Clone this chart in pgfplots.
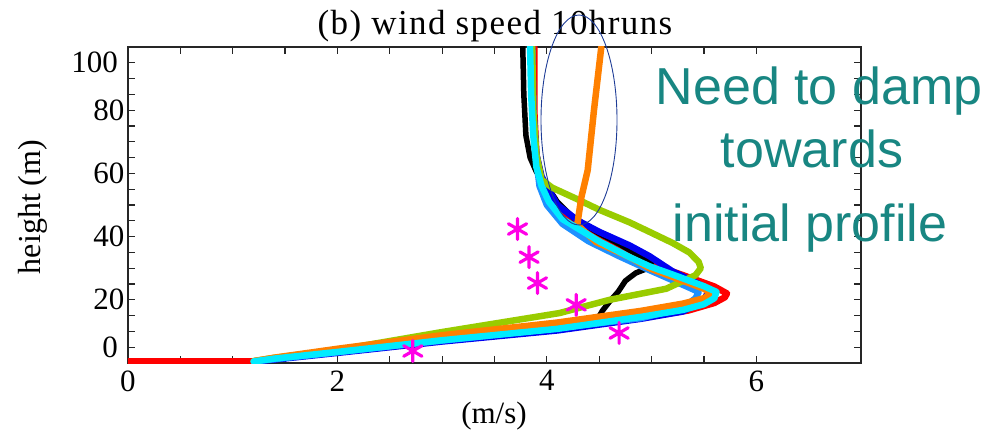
\documentclass[border=0pt]{standalone}
\usepackage{fontspec}
\setmainfont{Liberation Serif}
\newfontfamily\annfont{Liberation Sans}
\newfontfamily\titlefont[LetterSpace=4]{Liberation Serif}
\usepackage{pgfplots}
\pgfplotsset{compat=1.18}
\definecolor{cgreen}{RGB}{153,204,0}
\definecolor{corange}{RGB}{255,128,0}
\definecolor{ccyan}{RGB}{0,235,255}
\definecolor{cdodger}{RGB}{30,144,255}
\definecolor{cblue}{RGB}{0,0,240}
\definecolor{cteal}{RGB}{24,134,130}
\definecolor{cellipse}{RGB}{30,60,150}
\definecolor{cmag}{RGB}{255,0,230}
\begin{document}
\begin{tikzpicture}
\path (-128pt,-79pt) rectangle (879pt,363pt);
\begin{axis}[at={(0pt,0pt)}, anchor=south west, scale only axis,
  width=733pt, height=316pt,
  xmin=0, xmax=7, ymin=0, ymax=100,
  xtick={0,2,4,6}, ytick={0,20,...,100}, yticklabels={,20,40,60,80,},
  minor x tick num=3, minor y tick num=3,
  tick align=inside, major tick length=7pt, minor tick length=7pt,
  tick style={black!85, line width=1.2pt},
  axis line style={line width=1.5pt, black!85},
  ticklabel style={font=\fontsize{31}{36}\selectfont},
  /pgf/number format/assume math mode=true,
  xticklabel style={yshift=-4pt},
  every axis plot/.append style={line join=round, line cap=round}]
% red
\addplot[red, line width=6.5pt] coordinates {
(0,0.5) (1.2,0.5) (1.4,1.4) (2,3.4) (3,7.0) (4.1,10.6) (4.9,14.3) (5.35,16.6) (5.6,19) (5.7,20.8) (5.72,22)
(5.6,24.2) (5.3,27.8) (4.98,31.5) (4.6,37.5) (4.3,43.5) (4.1,48) (4.0,53) (3.95,58) (3.9,66) (3.88,80) (3.88,100)};
% black
\addplot[black, line width=5.5pt] coordinates {
(1.2,0.5) (2,3.6) (3,7.4) (4,11.2) (4.5,14.8) (4.53,16.5) (4.6,19.5) (4.68,22.5) (4.75,26) (4.85,28.5) (4.95,29.8) (5.0,31.5)
(4.9,33.5) (4.7,37.5) (4.5,41) (4.25,46) (4.1,51) (4.0,56) (3.9,60.5) (3.84,65) (3.8,72) (3.78,85) (3.77,100)};
% blue
\addplot[cblue, line width=6.5pt] coordinates {
(1.2,0.4) (2,3.2) (3,6.8) (4.1,10.3) (4.9,14.0) (5.3,16.3) (5.5,20) (5.55,23) (5.45,25) (5.2,29) (4.98,33.8) (4.79,37.2) (4.5,41.5) (4.3,45) (4.1,50) (4.02,54.7) (3.95,59) (3.9,66) (3.87,80) (3.86,100)};
% dodger blue
\addplot[cdodger, line width=6.5pt] coordinates {
(1.2,0.5) (2,3.4) (3,7.1) (4,10.6) (4.9,14.2) (5.3,17.5) (5.42,20.5) (5.45,22.5) (5.35,24) (4.98,29.4) (4.69,33.8) (4.4,38.5) (4.15,44) (4.0,50) (3.93,56) (3.9,64) (3.87,80) (3.86,100)};
% green
\addplot[cgreen, line width=6.5pt] coordinates {
(1.2,0.6) (1.39,1.6) (2,4.1) (3,9.8) (4.12,15.8) (4.6,20) (5.14,23.5) (5.42,27.8) (5.47,30) (5.45,32) (5.36,35) (5.2,38) (4.98,41.5) (4.79,44.5) (4.5,48.5) (4.28,52) (4.05,55.5) (3.95,58) (3.9,66) (3.87,80) (3.86,100)};
% orange
\addplot[corange, line width=6.5pt] coordinates {
(1.2,0.6) (1.4,1.7) (2,4.5) (3,8.8) (4.1,12.8) (4.9,16.5) (5.3,18.8) (5.5,20.5) (5.57,22) (5.5,23.5) (5.3,26) (4.98,30) (4.79,33.5) (4.47,38.3) (4.29,43.7) (4.33,52.5) (4.39,61) (4.45,80) (4.52,100)};
% cyan
\addplot[ccyan, line width=6.5pt] coordinates {
(1.2,0.5) (1.4,1.4) (2.0,3.5) (3.0,7.2) (4.1,10.8) (4.9,14.6) (5.3,16.8) (5.5,18.6) (5.6,20.5) (5.62,22.5)
(5.5,24.3) (5.2,28) (4.98,30.6) (4.79,33.5) (4.5,38.5) (4.3,42.5) (4.15,45.5) (4.02,51) (3.95,56) (3.9,62) (3.87,72) (3.85,85) (3.84,100)};
% observations
\addplot[only marks, mark=asterisk, mark size=10.5pt, cmag, line width=3.2pt] coordinates {
(3.72,42.4) (3.83,33.5) (3.91,25.3) (4.28,18.4) (4.69,9.5) (2.72,3.8)};
\end{axis}
\node[anchor=east, font=\fontsize{31}{36}\selectfont, inner sep=0pt] at (-10pt,16pt) {0};
\node[anchor=east, font=\fontsize{31}{36}\selectfont, inner sep=0pt] at (-10pt,301pt) {100};
\node[anchor=base, font=\titlefont\fontsize{35}{40}\selectfont] at (367pt,328pt) {(b) wind speed 10hruns};
\node[anchor=base, font=\fontsize{31}{36}\selectfont] at (366pt,-60pt) {(m/s)};
\node[rotate=90, font=\fontsize{32}{36}\selectfont] at (-95pt,156pt) {height (m)};
\draw[cellipse, line width=0.9pt] (451pt,243pt) ellipse [x radius=38pt, y radius=105pt];
\node[anchor=base, text=cteal, font=\annfont\fontsize{52}{60}\selectfont] at (691pt,258pt) {Need to damp};
\node[anchor=base, text=cteal, font=\annfont\fontsize{52}{60}\selectfont] at (684pt,195pt) {towards};
\node[anchor=base, text=cteal, font=\annfont\fontsize{52}{60}\selectfont] at (682pt,121pt) {initial profile};
\end{tikzpicture}
\end{document}
